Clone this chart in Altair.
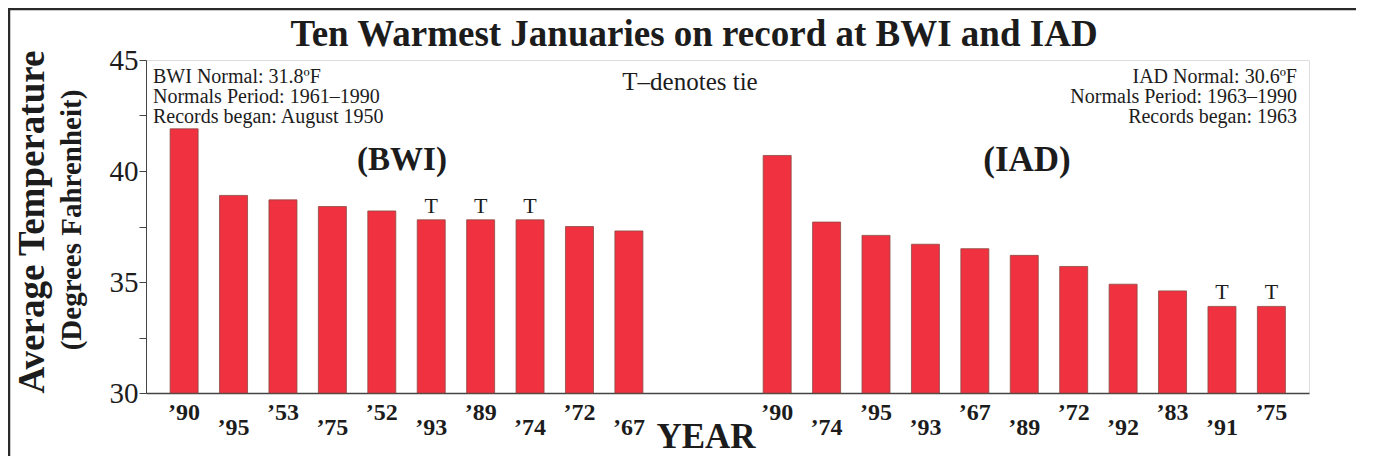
import altair as alt
import pandas as pd

# ---- data ----
bwi_years = ["’90", "’95", "’53", "’75", "’52", "’93", "’89", "’74", "’72", "’67"]
bwi_temps = [41.9, 38.9, 38.7, 38.4, 38.2, 37.8, 37.8, 37.8, 37.5, 37.3]
bwi_ties = [False, False, False, False, False, True, True, True, False, False]

iad_years = ["’90", "’74", "’95", "’93", "’67", "’89", "’72", "’92", "’83", "’91", "’75"]
iad_temps = [40.7, 37.7, 37.1, 36.7, 36.5, 36.2, 35.7, 34.9, 34.6, 33.9, 33.9]
iad_ties = [False, False, False, False, False, False, False, False, False, True, True]

y_ticks = [30, 32.5, 35, 37.5, 40, 42.5, 45]
gap_slots = 2

title_text = "Ten Warmest Januaries on record at BWI and IAD"
bwi_notes = ["BWI Normal: 31.8ºF", "Normals Period: 1961–1990", "Records began: August 1950"]
iad_notes = ["IAD Normal: 30.6ºF", "Normals Period: 1963–1990", "Records began: 1963"]

rows = []
for i, (yr, t, tie) in enumerate(zip(bwi_years, bwi_temps, bwi_ties)):
    rows.append({"station": "BWI", "year": yr, "temp": t, "tie": "T" if tie else "",
                 "pos": i, "lvl": i % 2})
start = len(bwi_years) + gap_slots
for j, (yr, t, tie) in enumerate(zip(iad_years, iad_temps, iad_ties)):
    rows.append({"station": "IAD", "year": yr, "temp": t, "tie": "T" if tie else "",
                 "pos": start + j, "lvl": j % 2})
df = pd.DataFrame(rows)

SERIF = "Liberation Serif"
INK = "#1c1c1c"
W, H = 1163, 333

x_scale = alt.Scale(domain=[-0.67, 22.66], nice=False, zero=False)
y_scale = alt.Scale(domain=[30, 45], nice=False, zero=False)

base = alt.Chart(df)

bars = base.mark_bar(size=28, color="#F0313F", stroke="#8c4a44", strokeWidth=0.8).encode(
    x=alt.X("pos:Q", scale=x_scale,
            axis=alt.Axis(labels=False, ticks=False, grid=False, title=None,
                          domainColor="#444", domainWidth=1.5)),
    y=alt.Y("temp:Q", scale=y_scale,
            axis=alt.Axis(values=y_ticks, grid=False, title=None, tickSize=7,
                          labelExpr="datum.value % 5 == 0 ? datum.label : ''",
                          labelFont=SERIF, labelFontSize=29, labelColor=INK,
                          labelPadding=1, tickColor="#444", domainColor="#444")),
    y2=alt.datum(30),
)

ties = base.transform_filter("datum.tie == 'T'").mark_text(
    font=SERIF, fontSize=22, color=INK, baseline="alphabetic", dy=-7
).encode(x=alt.X("pos:Q", scale=x_scale), y=alt.Y("temp:Q", scale=y_scale), text="tie:N")

lab_hi = base.transform_filter("datum.lvl == 0").mark_text(
    font=SERIF, fontSize=24, fontWeight="bold", color=INK, baseline="middle"
).encode(x=alt.X("pos:Q", scale=x_scale), y=alt.value(353), text="year:N")
lab_lo = base.transform_filter("datum.lvl == 1").mark_text(
    font=SERIF, fontSize=24, fontWeight="bold", color=INK, baseline="middle"
).encode(x=alt.X("pos:Q", scale=x_scale), y=alt.value(368), text="year:N")


def label(txt, x, y, size, weight="normal", angle=0, baseline="middle", align="center",
          line_height=None):
    kw = dict(font=SERIF, fontSize=size, fontWeight=weight, color=INK,
              align=align, baseline=baseline, text=txt)
    if angle:
        kw["angle"] = angle
    if line_height:
        kw["lineHeight"] = line_height
    return alt.Chart(pd.DataFrame({"a": [0]})).mark_text(**kw).encode(
        x=alt.value(x), y=alt.value(y))


title = label(title_text, 548, -25, 37, "bold")
bwi_txt = label(bwi_notes, 7, 17, 20, align="left", line_height=20)
iad_txt = label(iad_notes, 1151, 17, 20, align="right", line_height=20)
tie_note = label("T–denotes tie", 544, 22, 25)
bwi_lab = label("(BWI)", 256, 100, 33, "bold")
iad_lab = label("(IAD)", 881, 100, 35, "bold")
ytitle = label("Average Temperature", -113, 162, 37, "bold", angle=270)
ysub = label("(Degrees Fahrenheit)", -74, 160, 29, "bold", angle=270)
xtitle = label("YEAR", 560, 395, 35, "bold", baseline="bottom")

frame_top = alt.Chart(pd.DataFrame({"a": [0]})).mark_rule(color="#2a2a2a", strokeWidth=2.5).encode(
    x=alt.value(-138), x2=alt.value(1210), y=alt.value(-51))
frame_left = alt.Chart(pd.DataFrame({"a": [0]})).mark_rule(color="#2a2a2a", strokeWidth=2.5).encode(
    x=alt.value(-137), y=alt.value(-52), y2=alt.value(396))

chart = alt.layer(
    bars, ties, lab_hi, lab_lo, bwi_txt, iad_txt,
    title, tie_note, bwi_lab, iad_lab, ytitle, ysub, xtitle, frame_top, frame_left
).properties(
    width=W, height=H,
    autosize=alt.AutoSizeParams(type="none"),
    padding={"left": 138, "top": 52, "right": 48, "bottom": 64},
).configure_view(
    stroke="#444", strokeWidth=1
).configure(background="white")

chart.save("out.html", embed_options={"renderer": "svg", "actions": False})
